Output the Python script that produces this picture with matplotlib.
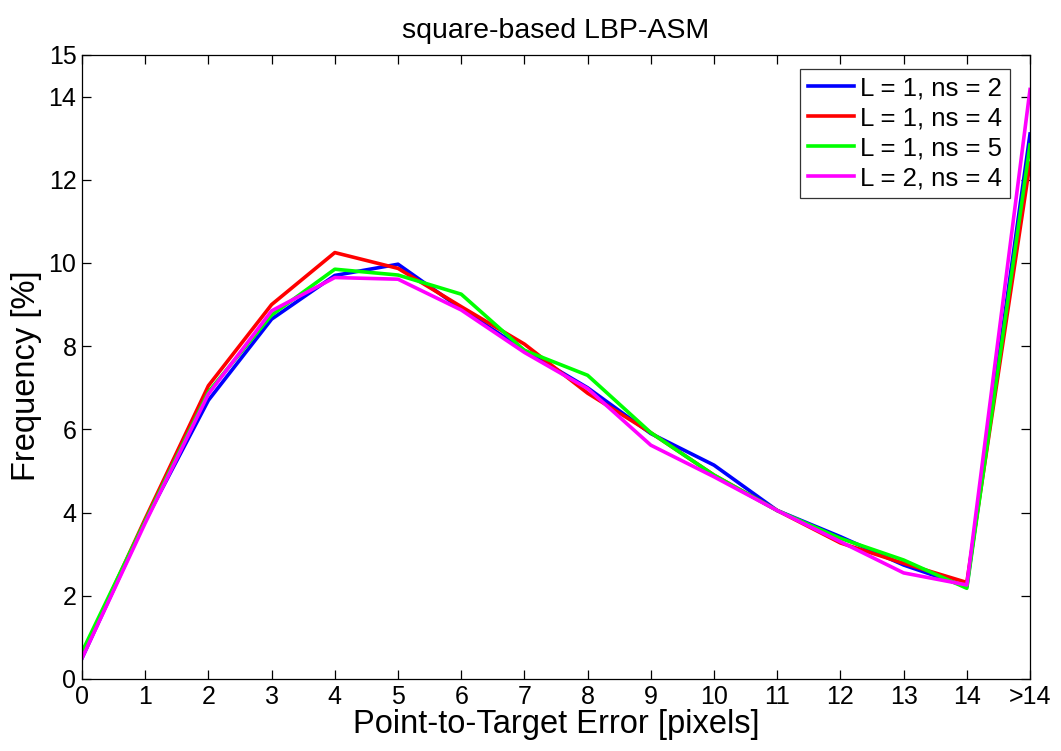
import matplotlib
matplotlib.use("Agg")
import matplotlib.pyplot as plt

plt.rcParams['font.family'] = ['Liberation Sans', 'DejaVu Sans']

x_positions = list(range(16))
x_labels = [str(i) for i in range(15)] + ['>14']
y_ticks = [0, 2, 4, 6, 8, 10, 12, 14, 15]

series_names = ['L = 1, ns = 2', 'L = 1, ns = 4', 'L = 1, ns = 5', 'L = 2, ns = 4']
series_colors = ['#0000ff', '#ff0000', '#00ff00', '#ff00ff']

blue = [0.5, 3.8, 6.7, 8.65, 9.7, 9.97, 8.9, 7.9, 7.0, 5.9, 5.14, 4.05, 3.42, 2.74, 2.22, 13.1]
red = [0.55, 3.85, 7.05, 9.0, 10.25, 9.87, 8.95, 8.05, 6.87, 5.92, 4.9, 4.05, 3.27, 2.78, 2.32, 12.4]
green = [0.65, 3.8, 6.9, 8.75, 9.85, 9.71, 9.25, 7.9, 7.3, 5.92, 4.9, 4.05, 3.38, 2.86, 2.18, 12.84]
magenta = [0.5, 3.75, 6.85, 8.85, 9.65, 9.61, 8.87, 7.85, 6.98, 5.62, 4.86, 4.05, 3.3, 2.55, 2.26, 14.17]
series_values = [blue, red, green, magenta]

fig = plt.figure(figsize=(10.61, 7.51), dpi=100)
ax = fig.add_axes([0.0773, 0.0959, 0.8935, 0.8309])

for name, color, vals in zip(series_names, series_colors, series_values):
    ax.plot(x_positions, vals, color=color, lw=2.6, label=name)

ax.set_xlim(0, 15)
ax.set_ylim(0, 15)
ax.set_xticks(x_positions)
ax.set_xticklabels(x_labels)
ax.set_yticks(y_ticks)
ax.tick_params(direction='in', length=6.5, width=0.9, top=True, right=True,
               labelsize=18, pad=4)
for s in ax.spines.values():
    s.set_linewidth(0.9)

ax.set_xlabel('Point-to-Target Error [pixels]', fontsize=23.5, labelpad=0)
ax.set_ylabel('Frequency [%]', fontsize=23.5)
ax.yaxis.set_label_coords(-0.042, 0.486)
ax.set_title('square-based LBP-ASM', fontsize=20.5, pad=12)

leg = ax.legend(loc='upper right', bbox_to_anchor=(0.979, 0.978), fontsize=18.5,
                frameon=True, fancybox=False, edgecolor='black',
                handlelength=1.8, borderpad=0.3, labelspacing=0.23,
                handletextpad=0.25, borderaxespad=0.0)
leg.get_frame().set_linewidth(0.9)

fig.savefig('out.png', dpi=100, facecolor='white')
